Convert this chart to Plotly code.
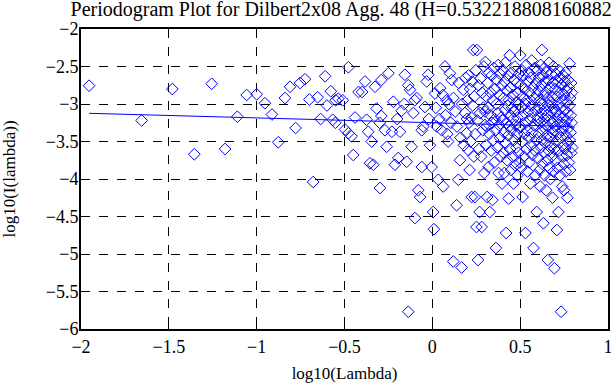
import plotly.graph_objects as go

# ---------------- data ----------------
left_x = [-1.954, -1.655, -1.48, -1.355, -1.256, -1.18, -1.11, -1.057, -1.00, -0.953,
          -0.913, -0.877, -0.839, -0.81, -0.778, -0.753, -0.725, -0.70, -0.678, -0.653,
          -0.636, -0.61, -0.60, -0.578, -0.567, -0.55, -0.552, -0.535, -0.51, -0.497,
          -0.478, -0.478, -0.46, -0.45, -0.44, -0.42, -0.40, -0.383, -0.374, -0.365,
          -0.355, -0.345, -0.336, -0.326, -0.317, -0.30, -0.298, -0.29, -0.29, -0.27,
          -0.26, -0.25, -0.23, -0.222, -0.213, -0.20, -0.194, -0.184, -0.175, -0.16,
          -0.156, -0.146, -0.137, -0.137, -0.127, -0.118, -0.108, -0.10, -0.099, -0.089,
          -0.08, -0.07, -0.06, -0.06, -0.052, -0.042, -0.032, -0.023, -0.02, -0.013,
          -0.004]
left_y = [-2.756, -3.22, -2.80, -3.67, -2.73, -3.60, -3.17, -2.88, -2.87, -2.99,
          -3.14, -3.51, -2.92, -2.77, -3.32, -2.72, -2.67, -2.94, -4.04, -2.91,
          -3.20, -2.63, -3.02, -2.83, -3.21, -2.95, -3.25, -2.93, -2.95, -3.34,
          -2.51, -3.39, -3.43, -3.68, -3.18, -2.84, -2.84, -2.70, -3.21, -3.37,
          -3.79, -3.50, -3.81, -2.77, -3.06, -3.25, -4.12, -2.68, -3.16, -3.35,
          -3.57, -2.59, -3.37, -2.97, -3.81, -3.20, -3.72, -3.37, -3.09, -3.00,
          -2.61, -3.77, -2.75, -5.77, -2.81, -3.57, -3.12, -2.95, -4.52, -2.92,
          -4.15, -4.24, -3.84, -3.35, -3.30, -3.04, -2.70, -2.61, -3.20, -3.55,
          -3.84]

mid_x = [0.005, 0.009, 0.015, 0.02, 0.025, 0.034, 0.04, 0.044, 0.053, 0.06,
         0.062, 0.072, 0.075, 0.081, 0.085, 0.09, 0.095, 0.10, 0.105, 0.11,
         0.119, 0.12, 0.13, 0.138, 0.14, 0.148, 0.15, 0.157, 0.16, 0.167,
         0.17, 0.176, 0.18, 0.186, 0.19, 0.195, 0.197]
mid_y = [-4.44, -4.67, -2.86, -3.05, -3.30, -4.01, -3.20, -2.79, -3.35, -2.88,
         -4.10, -2.50, -3.15, -2.95, -3.40, -3.50, -3.00, -2.59, -3.25, -2.68,
         -5.10, -2.92, -3.10, -4.35, -3.30, -4.01, -2.72, -3.75, -3.45, -5.18,
         -3.00, -2.81, -3.55, -3.12, -2.65, -3.39, -3.20]

s2_x = [0.200, 0.203, 0.206, 0.209, 0.212, 0.215, 0.218, 0.221, 0.224, 0.227,
        0.230, 0.233, 0.236, 0.239, 0.242, 0.245, 0.248, 0.251, 0.254, 0.257,
        0.260, 0.263, 0.266, 0.269, 0.272, 0.275, 0.278, 0.281, 0.284, 0.287,
        0.290, 0.293, 0.296, 0.299]
s2_y = [-2.95, -3.61, -2.62, -3.25, -3.88, -2.80, -3.50, -3.18, -4.24, -2.70,
        -3.02, -2.28, -3.70, -2.90, -4.24, -3.40, -2.55, -4.64, -2.28, -3.22,
        -5.08, -2.75, -3.60, -4.44, -3.12, -2.66, -3.70, -4.64, -2.85, -3.35,
        -3.05, -2.50, -3.92, -3.28]

s3_x = [0.300, 0.302, 0.305, 0.307, 0.310, 0.312, 0.315, 0.317, 0.320, 0.322,
        0.325, 0.327, 0.330, 0.332, 0.335, 0.337, 0.340, 0.342, 0.345, 0.347,
        0.350, 0.352, 0.355, 0.357, 0.360, 0.362, 0.365, 0.367, 0.370, 0.372,
        0.375, 0.377, 0.380, 0.382, 0.385, 0.387, 0.390, 0.392, 0.395, 0.397]
s3_y = [-3.10, -2.44, -3.55, -2.90, -3.30, -4.24, -2.72, -3.05, -3.84, -2.58,
        -3.40, -4.44, -3.15, -2.85, -3.62, -2.62, -3.25, -4.28, -2.95, -3.48,
        -2.52, -3.78, -3.20, -2.80, -3.35, -4.92, -3.00, -2.68, -3.58, -3.12,
        -2.48, -3.92, -3.28, -2.88, -3.45, -2.60, -3.70, -3.18, -2.75, -4.06]

s4_x = [0.400, 0.402, 0.404, 0.406, 0.408, 0.410, 0.412, 0.414, 0.416, 0.418,
        0.420, 0.422, 0.424, 0.426, 0.428, 0.430, 0.432, 0.434, 0.436, 0.438,
        0.440, 0.442, 0.444, 0.446, 0.448, 0.450, 0.452, 0.454, 0.456, 0.458,
        0.460, 0.462, 0.464, 0.466, 0.468, 0.470, 0.472, 0.474, 0.476, 0.478,
        0.480, 0.482, 0.484, 0.486, 0.488, 0.490, 0.492, 0.494, 0.496, 0.498]
s4_y = [-3.22, -2.55, -3.65, -2.92, -3.38, -3.92, -2.70, -3.08, -2.45, -3.52,
        -4.72, -3.25, -2.82, -3.75, -3.02, -2.62, -3.42, -4.26, -2.95, -3.30,
        -2.35, -3.60, -3.15, -2.78, -3.88, -3.35, -2.58, -3.05, -3.70, -2.88,
        -3.20, -4.06, -2.68, -3.48, -3.10, -2.50, -3.82, -3.28, -2.98, -3.58,
        -2.72, -3.40, -3.95, -3.18, -2.85, -3.65, -3.00, -2.60, -3.32, -3.78]

s5_x = [0.500, 0.502, 0.504, 0.506, 0.508, 0.510, 0.512, 0.514, 0.516, 0.518,
        0.520, 0.522, 0.524, 0.526, 0.528, 0.530, 0.532, 0.534, 0.536, 0.538,
        0.540, 0.542, 0.544, 0.546, 0.548, 0.550, 0.552, 0.554, 0.556, 0.558,
        0.560, 0.562, 0.564, 0.566, 0.568, 0.570, 0.572, 0.574, 0.576, 0.578,
        0.580, 0.582, 0.584, 0.586, 0.588, 0.590, 0.592, 0.594, 0.596, 0.598]
s5_y = [-2.35, -3.30, -2.75, -3.85, -3.05, -2.55, -3.50, -4.24, -2.90, -3.15,
        -2.62, -3.70, -3.40, -2.80, -3.00, -4.72, -3.25, -2.48, -3.60, -2.95,
        -3.35, -3.90, -2.70, -3.10, -2.58, -3.45, -3.78, -2.85, -3.20, -4.06,
        -2.65, -3.55, -3.02, -2.42, -3.38, -3.68, -2.78, -3.12, -4.92, -2.92,
        -3.28, -2.52, -3.62, -3.95, -3.08, -2.72, -3.48, -4.44, -2.88, -3.22]

s6_x = [0.600, 0.602, 0.603, 0.605, 0.606, 0.608, 0.609, 0.611, 0.612, 0.614,
        0.615, 0.617, 0.618, 0.620, 0.621, 0.623, 0.624, 0.626, 0.627, 0.629,
        0.630, 0.632, 0.633, 0.635, 0.636, 0.638, 0.639, 0.641, 0.642, 0.644,
        0.645, 0.647, 0.648, 0.650, 0.651, 0.653, 0.654, 0.656, 0.657, 0.659,
        0.660, 0.662, 0.663, 0.665, 0.666, 0.668, 0.669, 0.671, 0.672, 0.674,
        0.675, 0.677, 0.678, 0.680, 0.681, 0.683, 0.684, 0.686, 0.687, 0.689,
        0.690, 0.692, 0.693, 0.695, 0.696]
s6_y = [-2.55, -3.18, -3.72, -2.82, -3.40, -2.65, -3.05, -3.88, -2.95, -4.10,
        -3.25, -2.48, -3.58, -3.12, -2.75, -3.48, -2.28, -3.80, -3.00, -2.62,
        -3.35, -4.59, -2.88, -3.65, -3.20, -2.52, -3.95, -3.08, -2.70, -3.52,
        -3.28, -2.85, -4.15, -3.42, -2.58, -3.15, -3.75, -2.92, -5.08, -3.30,
        -2.68, -3.62, -3.02, -2.45, -3.85, -3.22, -2.78, -3.45, -4.00, -2.98,
        -3.55, -2.60, -3.10, -3.70, -2.90, -3.38, -4.25, -2.72, -3.25, -3.90,
        -2.50, -3.05, -3.60, -5.19, -3.35]

s7_x = [0.700, 0.701, 0.703, 0.704, 0.706, 0.707, 0.709, 0.710, 0.712, 0.713,
        0.715, 0.716, 0.718, 0.719, 0.721, 0.722, 0.724, 0.725, 0.727, 0.728,
        0.730, 0.731, 0.733, 0.734, 0.736, 0.737, 0.739, 0.740, 0.742, 0.743,
        0.745, 0.746, 0.748, 0.749, 0.751, 0.752, 0.754, 0.755, 0.757, 0.758,
        0.760, 0.761, 0.763, 0.764, 0.766, 0.767, 0.769, 0.770, 0.772, 0.773,
        0.775, 0.776, 0.778, 0.779, 0.781, 0.782, 0.784, 0.785, 0.787, 0.788,
        0.790, 0.791, 0.793, 0.794, 0.796]
s7_y = [-2.80, -3.30, -3.75, -2.60, -3.10, -3.50, -4.68, -2.90, -3.20, -3.85,
        -2.70, -3.40, -4.44, -3.00, -2.55, -3.62, -3.15, -2.85, -3.95, -3.25,
        -2.65, -3.45, -5.77, -3.05, -2.75, -3.70, -4.10, -3.35, -2.95, -3.55,
        -2.62, -3.18, -3.80, -4.15, -2.88, -3.28, -2.70, -3.60, -3.08, -2.58,
        -3.90, -3.42, -2.82, -3.22, -3.68, -2.98, -4.25, -3.12, -2.68, -3.52,
        -3.32, -2.78, -3.78, -3.02, -2.46, -3.48, -3.88, -2.92, -3.38, -3.15,
        -2.72, -3.65, -3.25, -2.85, -3.58]

fit_x = [-1.954, 0.796]
fit_y = [-3.124, -3.301]

x_ticks = [-2, -1.5, -1, -0.5, 0, 0.5, 1]
y_ticks = [-6, -5.5, -5, -4.5, -4, -3.5, -3, -2.5, -2]

title_text = "Periodogram Plot for Dilbert2x08 Agg. 48 (H=0.532218808160882)"
x_label = "log10(Lambda)"
y_label = "log10(I(lambda))"

# ---------------- figure ----------------
pts_x = left_x + mid_x + s2_x + s3_x + s4_x + s5_x + s6_x + s7_x
pts_y = left_y + mid_y + s2_y + s3_y + s4_y + s5_y + s6_y + s7_y

FONT = "Liberation Serif"
BLUE = "#0000ff"


def fmt(v):
    return ("\u2212" + f"{abs(v):g}") if v < 0 else f"{v:g}"


fig = go.Figure()
fig.add_trace(go.Scatter(
    x=pts_x, y=pts_y, mode="markers",
    marker=dict(symbol="diamond-open", size=9, color=BLUE, line=dict(width=1, color=BLUE)),
    showlegend=False, hoverinfo="skip"))
fig.add_trace(go.Scatter(
    x=fit_x, y=fit_y, mode="lines", line=dict(color=BLUE, width=1),
    showlegend=False, hoverinfo="skip"))

axis_common = dict(
    showline=True, linecolor="black", linewidth=2, mirror="ticks",
    ticks="inside", ticklen=5, tickwidth=1, tickcolor="black",
    showgrid=True, gridcolor="black", gridwidth=1, griddash="dash",
    zeroline=False, automargin=False, ticklabeloverflow="allow",
    tickfont=dict(family=FONT, size=18, color="black"),
)

fig.update_xaxes(range=[-2, 1], tickvals=x_ticks, ticktext=[fmt(v) for v in x_ticks],
                 title=dict(text=x_label, font=dict(family=FONT, size=17, color="black"), standoff=12),
                 ticklabelstandoff=0, **axis_common)
fig.update_yaxes(range=[-6, -2], tickvals=y_ticks, ticktext=[fmt(v) for v in y_ticks],
                 title=dict(text=y_label, font=dict(family=FONT, size=17, color="black"), standoff=27),
                 ticklabelstandoff=-3, **axis_common)

fig.update_layout(
    width=611, height=385,
    margin=dict(l=81, r=3, t=29, b=56, autoexpand=False),
    paper_bgcolor="white", plot_bgcolor="white",
    title=dict(text=title_text, x=0.5, xref="paper", xanchor="center",
               y=1 - 2 / 385, yref="container", yanchor="top", pad=dict(t=0, b=0),
               font=dict(family=FONT, size=20, color="black")),
)

fig.write_html("out.html", config={"displayModeBar": False},
               post_script="document.body.style.margin='0';")
